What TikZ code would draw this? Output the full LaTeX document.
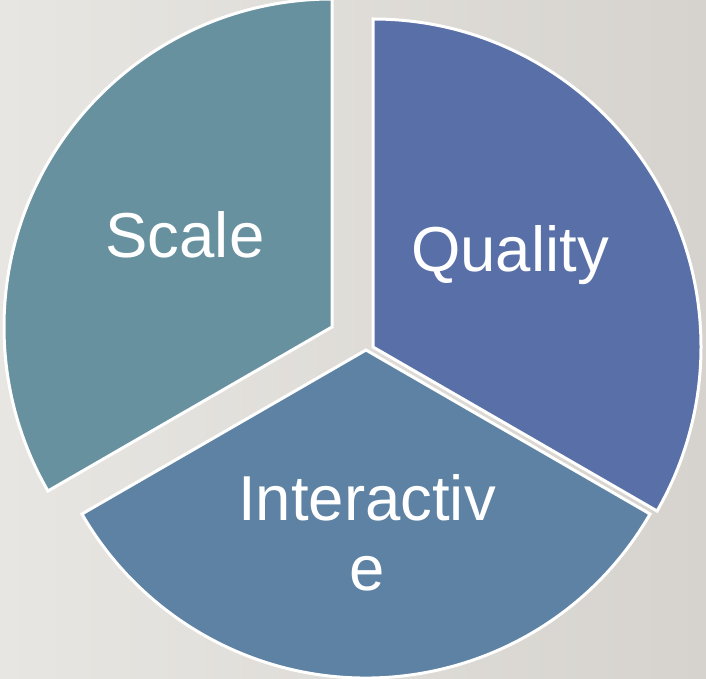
\documentclass[tikz,border=0pt]{standalone}
\usepackage{fontspec}
\setmainfont{Liberation Sans}
\usetikzlibrary{positioning}

\definecolor{bgleft}{HTML}{E8E6E2}
\definecolor{bgright}{HTML}{D6D3CE}
\definecolor{scalecol}{HTML}{6891A0}
\definecolor{qualitycol}{HTML}{586FA8}
\definecolor{interactcol}{HTML}{5E82A3}

\tikzset{
    slice/.style={draw=white,line width=3pt,line join=miter},
    label/.style={text=white,font=\fontsize{63.5}{70}\selectfont,align=center,anchor=base}
}

\begin{document}
\begin{tikzpicture}[x=1pt,y=1pt]
        \useasboundingbox (0,0) rectangle (706,678);
        \shade[left color=bgleft,right color=bgright] (0,0) rectangle (706,678);

        \coordinate (scalec) at (332,351);
        \coordinate (qualityc) at (373,331);
        \coordinate (interactc) at (366,328);

        % the three slices
        \draw[slice,fill=scalecol] (scalec) -- ++(90:328) arc[start angle=90,end angle=210,radius=328] -- cycle;
        \draw[slice,fill=qualitycol] (qualityc) -- ++(90:328) arc[start angle=90,end angle=-30,radius=328] -- cycle;
        \draw[slice,fill=interactcol] (interactc) -- ++(-30:328) arc[start angle=-30,end angle=-150,radius=328] -- cycle;

        \node[label] (scale) at (185,420) {Scale};
        \node[label] (quality) at (510,406) {Quality};
        \node[label] (interactive) at (367,88) {Interactiv\\e};
    \end{tikzpicture}
\end{document}
